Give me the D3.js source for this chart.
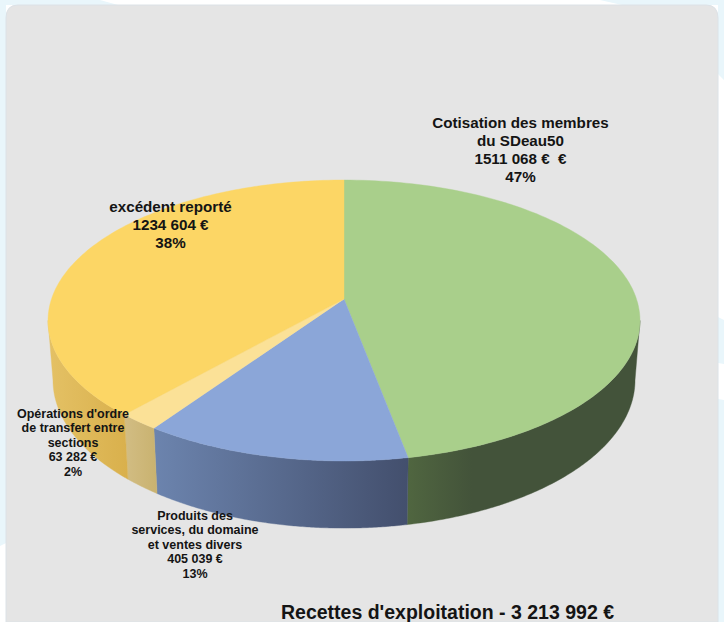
<!DOCTYPE html>
<html lang="fr">
<head>
<meta charset="utf-8">
<script src="https://cdn.jsdelivr.net/npm/d3@7"></script>
<style>
html,body{margin:0;padding:0;background:#fff;overflow:hidden}
svg{display:block}
text{font-family:"Liberation Sans",Arial,sans-serif;font-weight:bold;fill:#141414;text-anchor:middle}
</style>
</head>
<body>
<svg id="c" width="724" height="622"></svg>
<script>
// --- data ---
const categories = ["Cotisation des membres du SDeau50","Produits des services, du domaine et ventes divers","Opérations d'ordre de transfert entre sections","excédent reporté"];
const values = [1511068, 405039, 63282, 1234604];
const labelLines = [
  ["Cotisation des membres","du SDeau50","1511 068 €  €","47%"],
  ["Produits des","services, du domaine","et ventes divers","405 039 €","13%"],
  ["Opérations d'ordre","de transfert entre","sections","63 282 €","2%"],
  ["excédent reporté","1234 604 €","38%"]
];
const topColors = ["#a9cf8b","#8ba6d8","#fbe197","#fcd665"];
const sideColors = [["#506640","#43533a"],["#6c84ae","#434f6d"],["#d2bd84","#c9b26f"],["#e4c165","#d9b04c"]];
const title = "Recettes d'exploitation - 3 213 992 €";
const labelX = [520.5,195,73,170.5];
const labelY = [128,520,418,212];
const labelSize = [15.2,12.5,12.5,15.2];
const labelLead = [18,14.4,14.4,18];

// --- projection of the tilted disc (perspective: far side is smaller) ---
const tilt = 0.153;
const cx = 344;
const topPlane = {ax:292.5, by:137.2, y0:299};
const botPlane = {ax:287.6, by:144.6, y0:357.4};
const project = (plane, ang) => {
  const X = Math.sin(ang), Y = Math.cos(ang), w = 1 + tilt*Y;
  return [cx + plane.ax*X/w, plane.y0 - plane.by*Y/w];
};

const svg = d3.select("#c");
const defs = svg.append("defs");

// page decoration
const bg = svg.append("g").attr("fill","#e9f6fb");
[
  "M0,0H100L118,5H6V543L0,546Z",
  "M622,5L600,0H724V80L718,74V5Z",
  "M718,317L724,320V364L718,363Z",
  "M718,399L724,400V622H718Z"
].forEach(d=>bg.append("path").attr("d",d));

// panel
svg.append("path")
  .attr("d","M6,622V18Q6,5 18,5H706Q718,5 718,18V622Z")
  .attr("fill","#e5e5e5").attr("stroke","#dce2e7").attr("stroke-width",1);

// --- slices ---
const arcs = d3.pie().sort(null).value(d=>d)(values);
const line = d3.line();
const rim = (plane,a0,a1) => d3.range(0,121).map(i=>project(plane,a0+(a1-a0)*i/120));

// visible side wall lies between the two silhouette angles
const sideStart = Math.acos(-tilt), sideEnd = 2*Math.PI - sideStart;
const gSide = svg.append("g"), gTop = svg.append("g");
arcs.forEach((a,i)=>{
  const a0 = Math.max(a.startAngle,sideStart), a1 = Math.min(a.endAngle,sideEnd);
  if(a1>a0){
    const top = rim(topPlane,a0,a1), bot = rim(botPlane,a0,a1).reverse();
    const xs = top.concat(bot).map(p=>p[0]);
    const id = "side"+i;
    const leftFirst = sideColors[i];
    const g = defs.append("linearGradient").attr("id",id).attr("gradientUnits","userSpaceOnUse")
      .attr("x1",d3.min(xs)).attr("x2", i===0 ? d3.min(xs)+65 : d3.max(xs)).attr("y1",0).attr("y2",0);
    g.append("stop").attr("offset",0).attr("stop-color",leftFirst[0]);
    g.append("stop").attr("offset",1).attr("stop-color",leftFirst[1]);
    gSide.append("path").attr("d",line(top.concat(bot))+"Z").attr("fill",`url(#${id})`)
      .attr("stroke",`url(#${id})`).attr("stroke-width",0.4);
  }
  const pts = [[cx,topPlane.y0]].concat(rim(topPlane,a.startAngle,a.endAngle));
  gTop.append("path").attr("d",line(pts)+"Z").attr("fill",topColors[i])
    .attr("stroke",topColors[i]).attr("stroke-width",0.4);
});

// --- labels ---
labelLines.forEach((lines,i)=>{
  const t = svg.append("text").attr("font-size",labelSize[i]);
  lines.forEach((s,j)=>t.append("tspan").attr("x",labelX[i]).attr("y",labelY[i]+j*labelLead[i]).attr("xml:space","preserve").text(s));
});
svg.append("text").attr("x",447.5).attr("y",619).attr("font-size",19.5).text(title);
</script>
</body>
</html>
